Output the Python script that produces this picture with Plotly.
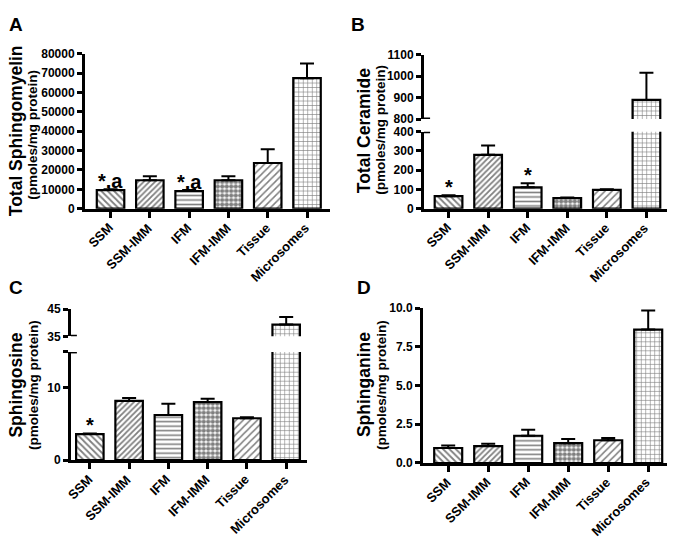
import plotly.graph_objects as go

# ---------------- data ----------------
categories = ["SSM", "SSM-IMM", "IFM", "IFM-IMM", "Tissue", "Microsomes"]

sphingomyelin_mean = [9600, 14700, 9100, 14700, 23600, 67400]
sphingomyelin_err = [500, 2000, 500, 2000, 7100, 7600]
sphingomyelin_sig = ["*,a", "", "*,a", "", "", ""]

ceramide_mean = [65, 280, 111, 55, 98, 889]
ceramide_err = [5, 49, 21, 3, 3, 127]
ceramide_sig = ["*", "", "*", "", "", ""]

sphingosine_mean = [3.6, 8.2, 6.25, 8.05, 5.8, 39.3]
sphingosine_err = [0.1, 0.4, 1.55, 0.45, 0.15, 2.8]
sphingosine_sig = ["*", "", "", "", "", ""]

sphinganine_mean = [0.97, 1.09, 1.76, 1.28, 1.47, 8.61]
sphinganine_err = [0.16, 0.15, 0.38, 0.27, 0.15, 1.24]
sphinganine_sig = ["", "", "", "", "", ""]

ticks_A = [0, 10000, 20000, 30000, 40000, 50000, 60000, 70000, 80000]
ticks_A_text = ["0", "10000", "20000", "30000", "40000", "50000", "60000", "70000", "80000"]
ticks_B_low = [0, 100, 200, 300, 400]
ticks_B_high = [800, 900, 1000, 1100]
ticks_C_low = [0, 10, 15]
ticks_C_low_text = ["0", "10", ""]
ticks_C_high = [35, 45]
ticks_D = [0, 2.5, 5, 7.5, 10]
ticks_D_text = ["0.0", "2.5", "5.0", "7.5", "10.0"]

# ---------------- styling ----------------
W, H = 674, 546
FONT = "Liberation Sans"
pat_shape = ["\\", "/", "-", ".", "/", "+"]
pat_size = [4.5, 4, 4.5, 4.5, 5, 4.5]
pat_solid = [0.4, 0.45, 0.35, 0.7, 0.3, 0.25]


def px(x):
    return min(1.0, max(0.0, x / W))


def py(y):
    return min(1.0, max(0.0, 1 - y / H))


fig = go.Figure()


def add_bars(xa, ya, mean, err):
    fig.add_trace(go.Bar(
        x=categories, y=mean, xaxis=xa, yaxis=ya, width=0.7,
        marker=dict(color="white", line=dict(color="black", width=2.2),
                    pattern=dict(shape=pat_shape, size=pat_size, solidity=pat_solid,
                                 fgcolor="black", bgcolor="white", fillmode="overlay")),
        error_y=dict(type="data", array=err, arrayminus=[0] * len(err), symmetric=False,
                     color="black", thickness=2, width=7),
        showlegend=False, hoverinfo="skip"))


# Panel A
add_bars("x", "y", sphingomyelin_mean, sphingomyelin_err)
# Panel B (broken axis)
add_bars("x2", "y2", ceramide_mean, ceramide_err)
add_bars("x3", "y3", ceramide_mean, ceramide_err)
# Panel C (broken axis)
add_bars("x4", "y4", sphingosine_mean, sphingosine_err)
add_bars("x5", "y5", sphingosine_mean, sphingosine_err)
# Panel D
add_bars("x6", "y6", sphinganine_mean, sphinganine_err)

ytickfont = dict(family=FONT, size=12, color="black", weight="bold")


def xaxis(dom, rng, anchor, visible=True):
    return dict(domain=dom, range=rng, anchor=anchor, type="category",
                showline=visible, linecolor="black", linewidth=3, ticks="outside" if visible else "",
                ticklen=6, tickwidth=2.5, tickcolor="black", showticklabels=False,
                showgrid=False, zeroline=False, fixedrange=True)


def yaxis(dom, rng, anchor, tickvals, ticktext=None):
    d = dict(domain=dom, range=rng, anchor=anchor, showline=True, linecolor="black", linewidth=3,
             ticks="outside", ticklen=5, tickwidth=2.5, tickcolor="black", tickfont=ytickfont,
             tickvals=tickvals, showgrid=False, zeroline=False, fixedrange=True)
    if ticktext is not None:
        d["ticktext"] = ticktext
    return d


xA = [px(85), px(330)]
xB = [px(424), px(667)]
xC = [px(71), px(307)]
xD = [px(423), px(667)]
rA = [-0.65, 5.585]
rB = [-0.62, 5.52]
rC = [-0.48, 5.53]
rD = [-0.63, 5.47]

fig.update_layout(
    width=W, height=H, margin=dict(l=0, r=0, t=0, b=0),
    paper_bgcolor="white", plot_bgcolor="white", showlegend=False,
    font=dict(family=FONT, color="black"),
    xaxis=xaxis(xA, rA, "y"),
    yaxis=yaxis([py(207), py(48)], [0, 80000], "x", ticks_A, ticks_A_text),
    xaxis2=xaxis(xB, rB, "y2"),
    yaxis2=yaxis([py(207), py(128)], [0, 400], "x2", ticks_B_low),
    xaxis3=xaxis(xB, rB, "y3", visible=False),
    yaxis3=yaxis([py(115), py(49)], [800, 1100], "x3", ticks_B_high),
    xaxis4=xaxis(xC, rC, "y4"),
    yaxis4=yaxis([py(465), py(354)], [0, 15], "x4", ticks_C_low, ticks_C_low_text),
    xaxis5=xaxis(xC, rC, "y5", visible=False),
    yaxis5=yaxis([py(338), py(310)], [35, 45], "x5", ticks_C_high),
    xaxis6=xaxis(xD, rD, "y6"),
    yaxis6=yaxis([py(468), py(309)], [0, 10], "x6", ticks_D, ticks_D_text),
)

# break markers on the broken axes
for xr, yr, yv in [("x2", "y2", 400), ("x3", "y3", 800), ("x4", "y4", 15), ("x5", "y5", 35)]:
    fig.add_shape(type="line", xref=xr + " domain", yref=yr, x0=0, x1=0.025, y0=yv, y1=yv,
                  line=dict(color="black", width=3))

annotations = []
# panel letters
for letter, x, y in [("A", 7, 5), ("B", 349, 5), ("C", 7, 275), ("D", 355, 275)]:
    annotations.append(dict(text="<b>%s</b>" % letter, x=px(x), y=py(y), xref="paper", yref="paper",
                            xanchor="left", yanchor="top", showarrow=False,
                            font=dict(family=FONT, size=19, color="black")))

# axis titles
titles = [("Total Sphingomyelin", 15.5, 127, 33, 131),
          ("Total Ceramide", 363.5, 127, 381, 126),
          ("Sphingosine", 16.5, 388, 33, 388),
          ("Sphinganine", 364, 388, 381, 388)]
for t, x1, y1, x2, y2 in titles:
    annotations.append(dict(text="<b>%s</b>" % t, x=px(x1), y=py(y1), xref="paper", yref="paper",
                            xanchor="center", yanchor="middle", textangle=-90, showarrow=False,
                            font=dict(family=FONT, size=17.5, color="black")))
    annotations.append(dict(text="<b>(pmoles/mg protein)</b>", x=px(x2), y=py(y2), xref="paper",
                            yref="paper", xanchor="center", yanchor="middle", textangle=-90,
                            showarrow=False, font=dict(family=FONT, size=13.5, color="black")))

# rotated category labels under each x axis
for xa, ya in [("x", "y"), ("x2", "y2"), ("x4", "y4"), ("x6", "y6")]:
    for c in categories:
        annotations.append(dict(text="<b>%s</b>" % c, x=c, y=0, xref=xa, yref=ya,
                                xanchor="right", yanchor="top", textangle=-45, showarrow=False,
                                xshift=8, yshift=-9,
                                font=dict(family=FONT, size=13, color="black")))

# significance marks
for xa, ya, mean, err, sig in [("x", "y", sphingomyelin_mean, sphingomyelin_err, sphingomyelin_sig),
                               ("x2", "y2", ceramide_mean, ceramide_err, ceramide_sig),
                               ("x4", "y4", sphingosine_mean, sphingosine_err, sphingosine_sig),
                               ("x6", "y6", sphinganine_mean, sphinganine_err, sphinganine_sig)]:
    for c, m, e, s in zip(categories, mean, err, sig):
        if s:
            annotations.append(dict(text="<b>%s</b>" % s, x=c, y=m + e, xref=xa, yref=ya,
                                    xanchor="center", yanchor="bottom", showarrow=False, yshift=-5,
                                    font=dict(family=FONT, size=20, color="black")))

fig.update_layout(annotations=annotations)
fig.write_html("out.html", config={"displayModeBar": False},
               post_script="document.body.style.margin='0px';")
